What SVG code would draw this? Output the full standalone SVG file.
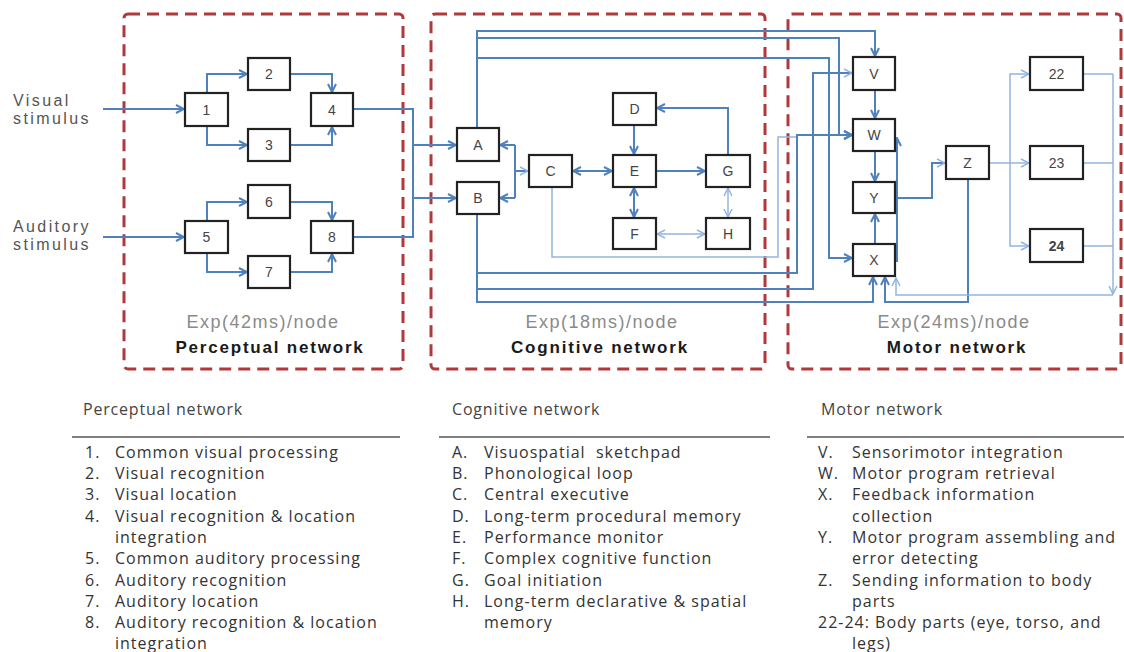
<svg xmlns="http://www.w3.org/2000/svg" width="1124" height="652" viewBox="0 0 1124 652">
  <style>
    .zone { fill: none; stroke: #b0393b; stroke-width: 3; stroke-dasharray: 12 7; }
    .box { fill: #ffffff; stroke: #222222; stroke-width: 2.2; }
    .lbl { font-family: "Liberation Sans", Arial, sans-serif; font-size: 14px; fill: #444444; text-anchor: middle; dominant-baseline: central; }
    .stim { font-family: "Liberation Sans", Arial, sans-serif; font-size: 16px; fill: #555555; letter-spacing: 2.4px; }
    .rate { font-family: "Liberation Sans", Arial, sans-serif; font-size: 18px; fill: #8a8a8a; text-anchor: middle; letter-spacing: 1.5px; }
    .title { font-family: "Liberation Sans", Arial, sans-serif; font-size: 17px; font-weight: bold; fill: #1a1a1a; text-anchor: middle; letter-spacing: 1.8px; }
    .c { fill: none; stroke: #4f81bd; stroke-width: 2; }
    .l { fill: none; stroke: #93b5df; stroke-width: 1.5; }
    .head { font-family: "Open Sans", "Noto Sans", sans-serif; font-size: 16px; fill: #444444; letter-spacing: 0.8px; }
    .item { font-family: "Open Sans", "Noto Sans", sans-serif; font-size: 16px; fill: #333333; letter-spacing: 1px; }
    .pre { white-space: pre; }
    .rule { stroke: #555555; stroke-width: 1.5; }
  </style>
  <defs>
    <marker id="a" viewBox="0 0 10 10" refX="9" refY="5" markerWidth="10" markerHeight="10" markerUnits="userSpaceOnUse" orient="auto-start-reverse">
      <path d="M1,1 L9,5 L1,9" fill="none" stroke="#4f81bd" stroke-width="2"/>
    </marker>
    <marker id="al" viewBox="0 0 10 10" refX="9" refY="5" markerWidth="10" markerHeight="10" markerUnits="userSpaceOnUse" orient="auto-start-reverse">
      <path d="M1,1 L9,5 L1,9" fill="none" stroke="#93b5df" stroke-width="1.5"/>
    </marker>
  </defs>

  <rect width="1124" height="652" fill="#ffffff"/>

  <!-- network zones -->
  <g id="zones">
    <rect class="zone" x="124" y="14" width="279" height="355" rx="4"/>
    <rect class="zone" x="431" y="14" width="334" height="355" rx="4"/>
    <rect class="zone" x="788" y="14" width="333" height="355" rx="4"/>
  </g>

  <!-- connectors -->
  <g id="connectors">
    <!-- perceptual -->
    <path class="c" d="M103,109 H184" marker-end="url(#a)"/>
    <path class="c" d="M103,237 H184" marker-end="url(#a)"/>
    <path class="c" d="M207,93 V74 H247" marker-end="url(#a)"/>
    <path class="c" d="M207,126 V145 H247" marker-end="url(#a)"/>
    <path class="c" d="M290,74 H332 V92" marker-end="url(#a)"/>
    <path class="c" d="M290,145 H332 V127" marker-end="url(#a)"/>
    <path class="c" d="M207,221 V202 H247" marker-end="url(#a)"/>
    <path class="c" d="M207,253 V272 H247" marker-end="url(#a)"/>
    <path class="c" d="M290,202 H332 V220" marker-end="url(#a)"/>
    <path class="c" d="M290,272 H332 V254" marker-end="url(#a)"/>
    <path class="c" d="M353,109 H413 V237 H353"/>
    <path class="c" d="M413,145 H456" marker-end="url(#a)"/>
    <path class="c" d="M413,198 H456" marker-end="url(#a)"/>

    <!-- cognitive -->
    <path class="c" d="M515,145 V198"/>
    <path class="c" d="M515,145 H500" marker-end="url(#a)"/>
    <path class="c" d="M515,198 H500" marker-end="url(#a)"/>
    <path class="c" d="M515,171 H528" marker-end="url(#al)"/>
    <path class="c" d="M573,171 H612" marker-start="url(#a)" marker-end="url(#a)"/>
    <path class="c" d="M657,171 H705" marker-end="url(#a)"/>
    <path class="c" d="M728,155 V108 H657" marker-end="url(#a)"/>
    <path class="c" d="M634,125 V154" marker-end="url(#a)"/>
    <path class="c" d="M634,188 V217" marker-start="url(#a)" marker-end="url(#a)"/>
    <path class="l" d="M728,188 V217" marker-start="url(#al)" marker-end="url(#al)"/>
    <path class="l" d="M657,234 H705" marker-start="url(#al)" marker-end="url(#al)"/>
    <path class="l" d="M552,187 V257 H778 V137 H797"/>

    <!-- buses from A and B into the motor network -->
    <path class="c" d="M477,128 V31 H875 V56" marker-end="url(#a)"/>
    <path class="c" d="M477,38 H839 V135 H852" marker-end="url(#a)"/>
    <path class="c" d="M477,58 H829 V258 H852" marker-end="url(#a)"/>
    <path class="c" d="M477,214 V302 H873 V277" marker-end="url(#a)"/>
    <path class="c" d="M477,273 H797 V135 H852" marker-end="url(#a)"/>
    <path class="c" d="M477,289 H813 V73 H852" marker-end="url(#al)"/>

    <!-- motor -->
    <path class="c" d="M875,90 V118" marker-end="url(#a)"/>
    <path class="c" d="M875,151 V181" marker-end="url(#a)"/>
    <path class="c" d="M875,244 V214" marker-end="url(#a)"/>
    <path class="c" d="M897,262 V138" marker-end="url(#a)"/>
    <path class="c" d="M895,198 H932 V163 H945" marker-end="url(#al)"/>
    <path class="c" d="M968,179 V302 H885 V277" marker-end="url(#a)"/>
    <path class="l" d="M989,163 H1029" marker-end="url(#al)"/>
    <path class="l" d="M1010,163 V74 H1029" marker-end="url(#al)"/>
    <path class="l" d="M1010,163 V246 H1029" marker-end="url(#al)"/>
    <path class="l" d="M1083,74 H1113 M1083,163 H1113 M1083,246 H1113"/>
    <path class="l" d="M1113,74 V294" marker-end="url(#al)"/>
    <path class="l" d="M1113,295 H896 V278" marker-end="url(#al)"/>
  </g>

  <!-- perceptual nodes -->
  <g id="n1"><rect class="box" x="185" y="93" width="43" height="33"/><text class="lbl" x="206.5" y="109.5">1</text></g>
  <g id="n2"><rect class="box" x="248" y="58" width="42" height="32"/><text class="lbl" x="269" y="74">2</text></g>
  <g id="n3"><rect class="box" x="248" y="129" width="42" height="32"/><text class="lbl" x="269" y="145">3</text></g>
  <g id="n4"><rect class="box" x="311" y="93" width="42" height="33"/><text class="lbl" x="332" y="109.5">4</text></g>
  <g id="n5"><rect class="box" x="185" y="221" width="43" height="32"/><text class="lbl" x="206.5" y="237">5</text></g>
  <g id="n6"><rect class="box" x="248" y="185" width="42" height="33"/><text class="lbl" x="269" y="201.5">6</text></g>
  <g id="n7"><rect class="box" x="248" y="256" width="42" height="32"/><text class="lbl" x="269" y="272">7</text></g>
  <g id="n8"><rect class="box" x="311" y="221" width="42" height="32"/><text class="lbl" x="332" y="237">8</text></g>

  <!-- cognitive nodes -->
  <g id="nA"><rect class="box" x="457" y="128" width="42" height="33"/><text class="lbl" x="478" y="144.5">A</text></g>
  <g id="nB"><rect class="box" x="457" y="182" width="42" height="32"/><text class="lbl" x="478" y="198">B</text></g>
  <g id="nC"><rect class="box" x="529" y="155" width="43" height="32"/><text class="lbl" x="550.5" y="171">C</text></g>
  <g id="nD"><rect class="box" x="613" y="93" width="43" height="32"/><text class="lbl" x="634.5" y="109">D</text></g>
  <g id="nE"><rect class="box" x="613" y="155" width="43" height="32"/><text class="lbl" x="634.5" y="171">E</text></g>
  <g id="nF"><rect class="box" x="613" y="218" width="43" height="31"/><text class="lbl" x="634.5" y="233.5">F</text></g>
  <g id="nG"><rect class="box" x="706" y="155" width="44" height="32"/><text class="lbl" x="728" y="171">G</text></g>
  <g id="nH"><rect class="box" x="706" y="218" width="44" height="31"/><text class="lbl" x="728" y="233.5">H</text></g>

  <!-- motor nodes -->
  <g id="nV"><rect class="box" x="853" y="57" width="42" height="33"/><text class="lbl" x="874" y="73.5">V</text></g>
  <g id="nW"><rect class="box" x="853" y="119" width="42" height="32"/><text class="lbl" x="874" y="135">W</text></g>
  <g id="nY"><rect class="box" x="853" y="182" width="42" height="31"/><text class="lbl" x="874" y="197.5">Y</text></g>
  <g id="nX"><rect class="box" x="853" y="244" width="42" height="32"/><text class="lbl" x="874" y="260">X</text></g>
  <g id="nZ"><rect class="box" x="946" y="146" width="43" height="33"/><text class="lbl" x="967.5" y="162.5">Z</text></g>
  <g id="n22"><rect class="box" x="1030" y="57" width="53" height="33"/><text class="lbl" x="1056.5" y="73.5">22</text></g>
  <g id="n23"><rect class="box" x="1030" y="146" width="53" height="33"/><text class="lbl" x="1056.5" y="162.5">23</text></g>
  <g id="n24"><rect class="box" x="1030" y="229" width="53" height="33"/><text class="lbl" x="1056.5" y="245.5" font-weight="bold" fill="#222">24</text></g>

  <!-- stimulus labels -->
  <g id="stimuli">
    <text class="stim" x="13" y="106">Visual</text>
    <text class="stim" x="13" y="124">stimulus</text>
    <text class="stim" x="13" y="232">Auditory</text>
    <text class="stim" x="13" y="250">stimulus</text>
  </g>

  <!-- zone captions -->
  <g id="captions">
    <text class="rate" x="263" y="328">Exp(42ms)/node</text>
    <text class="title" x="270" y="353">Perceptual network</text>
    <text class="rate" x="602" y="328">Exp(18ms)/node</text>
    <text class="title" x="600" y="353">Cognitive network</text>
    <text class="rate" x="954" y="328">Exp(24ms)/node</text>
    <text class="title" x="957" y="353">Motor network</text>
  </g>

  <!-- legend: perceptual -->
  <g id="legend-perceptual">
    <text class="head" x="83" y="415">Perceptual network</text>
    <line class="rule" x1="72" y1="437" x2="400" y2="437"/>
    <text class="item" x="85" y="458">1.</text><text class="item" x="115" y="458">Common visual processing</text>
    <text class="item" x="85" y="479">2.</text><text class="item" x="115" y="479">Visual recognition</text>
    <text class="item" x="85" y="500">3.</text><text class="item" x="115" y="500">Visual location</text>
    <text class="item" x="85" y="522">4.</text><text class="item" x="115" y="522">Visual recognition &amp; location</text>
    <text class="item" x="115" y="543">integration</text>
    <text class="item" x="85" y="564">5.</text><text class="item" x="115" y="564">Common auditory processing</text>
    <text class="item" x="85" y="586">6.</text><text class="item" x="115" y="586">Auditory recognition</text>
    <text class="item" x="85" y="607">7.</text><text class="item" x="115" y="607">Auditory location</text>
    <text class="item" x="85" y="628">8.</text><text class="item" x="115" y="628">Auditory recognition &amp; location</text>
    <text class="item" x="115" y="649">integration</text>
  </g>

  <!-- legend: cognitive -->
  <g id="legend-cognitive">
    <text class="head" x="452" y="415">Cognitive network</text>
    <line class="rule" x1="439" y1="437" x2="770" y2="437"/>
    <text class="item" x="452" y="458">A.</text><text class="item pre" x="484" y="458">Visuospatial  sketchpad</text>
    <text class="item" x="452" y="479">B.</text><text class="item" x="484" y="479">Phonological loop</text>
    <text class="item" x="452" y="500">C.</text><text class="item" x="484" y="500">Central executive</text>
    <text class="item" x="452" y="522">D.</text><text class="item" x="484" y="522">Long-term procedural memory</text>
    <text class="item" x="452" y="543">E.</text><text class="item" x="484" y="543">Performance monitor</text>
    <text class="item" x="452" y="564">F.</text><text class="item" x="484" y="564">Complex cognitive function</text>
    <text class="item" x="452" y="586">G.</text><text class="item" x="484" y="586">Goal initiation</text>
    <text class="item" x="452" y="607">H.</text><text class="item" x="484" y="607">Long-term declarative &amp; spatial</text>
    <text class="item" x="484" y="628">memory</text>
  </g>

  <!-- legend: motor -->
  <g id="legend-motor">
    <text class="head" x="821" y="415">Motor network</text>
    <line class="rule" x1="807" y1="437" x2="1124" y2="437"/>
    <text class="item" x="818" y="458">V.</text><text class="item" x="852" y="458">Sensorimotor integration</text>
    <text class="item" x="818" y="479">W.</text><text class="item" x="852" y="479">Motor program retrieval</text>
    <text class="item" x="818" y="500">X.</text><text class="item" x="852" y="500">Feedback information</text>
    <text class="item" x="852" y="522">collection</text>
    <text class="item" x="818" y="543">Y.</text><text class="item" x="852" y="543">Motor program assembling and</text>
    <text class="item" x="852" y="564">error detecting</text>
    <text class="item" x="818" y="586">Z.</text><text class="item" x="852" y="586">Sending information to body</text>
    <text class="item" x="852" y="607">parts</text>
    <text class="item" x="818" y="628">22-24: Body parts (eye, torso, and</text>
    <text class="item" x="852" y="649">legs)</text>
  </g>
</svg>
